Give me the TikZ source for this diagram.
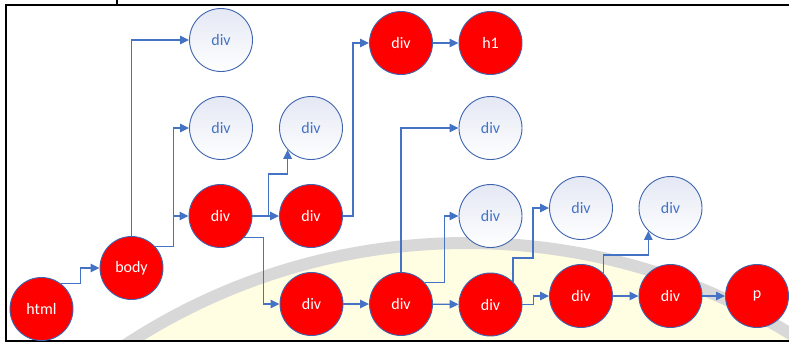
\documentclass[tikz,border=0pt]{standalone}
\usepackage{fontspec}
\setmainfont{Carlito}
\usetikzlibrary{arrows.meta,calc}
\definecolor{lnblue}{RGB}{68,114,196}
\definecolor{outl}{RGB}{62,100,175}
\definecolor{wmgray}{RGB}{216,216,216}
\definecolor{wmyel}{RGB}{255,253,226}
\definecolor{wshade}{RGB}{228,232,244}
\tikzset{
  redn/.style={circle,draw=outl,line width=0.9pt,fill=red,minimum size=63pt,inner sep=0pt,text=white,font=\fontsize{16}{18}\selectfont},
  whiten/.style={circle,draw=outl,line width=0.9pt,top color=wshade,bottom color=white,minimum size=63pt,inner sep=0pt,text=lnblue,font=\fontsize{16}{18}\selectfont},
  conn/.style={draw=lnblue,line width=1.3pt,-{Triangle[length=9pt,width=8.5pt]}},
  frame/.style={draw=black,line width=2.6pt}
}
\begin{document}
\begin{tikzpicture}[x=1pt,y=-1pt]
\useasboundingbox (0,0) rectangle (789,343);
% watermark
\begin{scope}
\clip (7,6) rectangle (789,340);
\fill[wmyel] (466.7,865) circle (622);
\draw[wmgray,line width=12pt] (466.7,865) circle (622);
\end{scope}
% frame
\draw[frame] (789,5) -- (6,5) -- (6,341) -- (789,341);
\draw[black,line width=1.6pt] (117,0) -- (117,5);
% nodes
\node[redn] (html) at (41.5,309) {html};
\node[redn] (body) at (131.5,268) {body};
\node[whiten] (w1) at (221,40) {div};
\node[whiten] (w2) at (221,128) {div};
\node[redn] (r1) at (220.5,216) {div};
\node[whiten] (w3) at (311,128) {div};
\node[redn] (r2) at (311,216) {div};
\node[redn] (rt) at (401,43) {div};
\node[redn] (h1) at (490.5,43) {h1};
\node[redn] (b1) at (311.5,304) {div};
\node[redn] (b2) at (401,304) {div};
\node[whiten] (w4) at (490.5,128) {div};
\node[whiten] (w5) at (490.5,216) {div};
\node[redn] (b3) at (490.5,304.5) {div};
\node[whiten] (w6) at (581,208) {div};
\node[redn] (b4) at (581,296) {div};
\node[whiten] (w7) at (670.5,208) {div};
\node[redn] (b5) at (670.5,296) {div};
\node[redn] (p) at (757,296) {p};
% connectors
\draw[conn] (html.52) -- ++(19,0) |- (body);
\draw[conn] (body.north) |- (w1);
\draw[conn] (body.42) -- ++(18,0) |- (w2);
\draw[conn] (body.42) -- ++(18,0) |- (r1);
\draw[conn] (r1) -- (r2);
\draw[conn] (r1.east) -- ++(16,0) -- ++(0,-42) -| (w3.223);
\draw[conn] (r2.east) -- ++(10,0) |- (rt);
\draw[conn] (rt) -- (h1);
\draw[conn] (r1.318) -- ++(19,0) |- (b1);
\draw[conn] (b1) -- (b2);
\draw[conn] (b2.north) |- (w4);
\draw[conn] (b2.42) -- ++(20,0) |- (w5);
\draw[conn] (b2) -- (b3);
\draw[conn] (b3.45) -- ++(0,-24) -- ++(20,0) |- (w6);
\draw[conn] (b3.east) -- ++(11,0) |- (b4);
\draw[conn] (b4.46) -- ++(0,-18) -| (w7.226);
\draw[conn] (b4) -- (b5);
\draw[conn] (b5) -- (p);
\end{tikzpicture}
\end{document}
